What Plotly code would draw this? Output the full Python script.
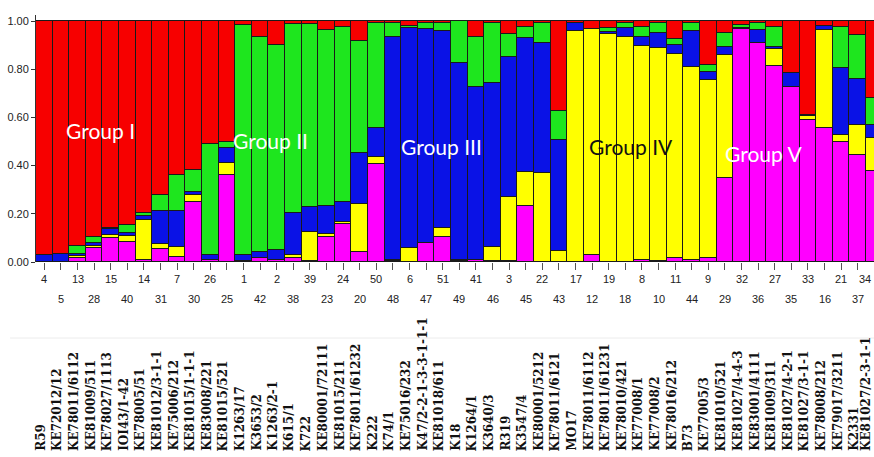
import plotly.graph_objects as go

# Sample numbers (x-axis, in plotted order)
sample_ids = ["4", "5", "13", "28", "15", "40", "14", "31", "7", "30", "26", "25",
              "1", "42", "2", "38", "39", "23", "24", "20", "50", "48", "6", "47",
              "51", "49", "41", "46", "3", "45", "22", "43", "17", "12", "19", "18",
              "8", "10", "11", "44", "9", "29", "32", "36", "27", "35", "33", "16",
              "21", "37", "34"]

# Line names printed below (in listed order)
line_names = ["R59", "KE72012/12", "KE78011/6112", "KE81009/511", "KE78027/1113",
              "IOI43/1-42", "KE78005/51", "KE81012/3-1-1", "KE75006/212",
              "KE81015/1-1-1", "KE83008/221", "KE81015/521", "K1263/17", "K3653/2",
              "K1263/2-1", "K615/1", "K722", "KE80001/72111", "KE81015/211",
              "KE78011/61232", "K222", "K74/1", "KE75016/232", "K47/2-2-1-3-3-1-1-1",
              "KE81018/611", "K18", "K1264/1", "K3640/3", "R319", "K3547/4",
              "KE80001/5212", "KE78011/6121", "MO17", "KE78011/6112", "KE78011/61231",
              "KE78010/421", "KE77008/1", "KE77008/2", "KE78016/212", "B73",
              "KE77005/3", "KE81010/521", "KE81027/4-4-3", "KE83001/4111",
              "KE81009/311", "KE81027/4-2-1", "KE81027/3-1-1", "KE78008/212",
              "KE79017/3211", "K2331", "KE81027/2-3-1-1"]

# Membership coefficients per cluster (stacked bottom -> top)
magenta = [0, 0, 0.015, 0.06, 0.10, 0.084, 0.01, 0.053, 0.022, 0.25, 0.01, 0.361,
           0.005, 0.015, 0.01, 0.017, 0.005, 0.105, 0.158, 0.043, 0.407, 0.005, 0, 0.08,
           0.102, 0.005, 0.01, 0.005, 0.005, 0.232, 0, 0, 0, 0.03, 0, 0,
           0.01, 0.005, 0.015, 0.01, 0.015, 0.347, 0.965, 0.907, 0.815, 0.725, 0.589, 0.555,
           0.499, 0.444, 0.379]
yellow = [0, 0, 0.01, 0.005, 0.012, 0.024, 0.164, 0.02, 0.041, 0.03, 0, 0.051,
          0, 0, 0, 0.013, 0.121, 0.01, 0.007, 0.198, 0.027, 0.005, 0.057, 0,
          0.038, 0.005, 0, 0.058, 0.266, 0.143, 0.371, 0.047, 0.96, 0.935, 0.945, 0.932,
          0.887, 0.884, 0.847, 0.80, 0.74, 0.512, 0, 0, 0.067, 0, 0.015, 0.408,
          0.028, 0.124, 0.134]
blue = [0.03, 0.035, 0.01, 0.015, 0.025, 0.012, 0.015, 0.14, 0.15, 0.01, 0.02, 0.06,
        0.025, 0.028, 0.04, 0.175, 0.104, 0.117, 0.085, 0.21, 0.121, 0.922, 0.913, 0.885,
        0.82, 0.814, 0.715, 0.681, 0.581, 0.553, 0.536, 0.459, 0.03, 0, 0.01, 0.038,
        0.035, 0.06, 0.038, 0.15, 0.035, 0.034, 0.005, 0.056, 0.01, 0.061, 0.006, 0.017,
        0.277, 0.19, 0.055]
green = [0, 0, 0.03, 0.025, 0.005, 0.035, 0.015, 0.065, 0.148, 0.092, 0.46, 0.025,
         0.953, 0.892, 0.85, 0.783, 0.758, 0.731, 0.724, 0.467, 0.435, 0.061, 0.01, 0.025,
         0.03, 0.176, 0.21, 0.249, 0.094, 0.046, 0.083, 0.122, 0, 0, 0.015, 0.02,
         0.042, 0.041, 0.025, 0.03, 0.027, 0.056, 0.015, 0.027, 0.082, 0, 0, 0,
         0.17, 0.184, 0.111]
red = [0.97, 0.965, 0.935, 0.895, 0.858, 0.845, 0.796, 0.722, 0.639, 0.618, 0.51, 0.503,
       0.017, 0.065, 0.10, 0.012, 0.012, 0.037, 0.026, 0.082, 0.01, 0.007, 0.02, 0.01,
       0.01, 0, 0.065, 0.007, 0.054, 0.026, 0.01, 0.372, 0.01, 0.035, 0.03, 0.01,
       0.026, 0.01, 0.075, 0.01, 0.183, 0.051, 0.015, 0.01, 0.026, 0.214, 0.39, 0.02,
       0.026, 0.058, 0.321]

y_ticks = [0, 0.2, 0.4, 0.6, 0.8, 1.0]
y_tick_text = ["0.00", "0.20", "0.40", "0.60", "0.80", "1.00"]

group_names = ["Group I", "Group II", "Group III", "Group IV", "Group V"]
group_x = [3.39, 13.63, 23.93, 35.34, 43.3]
group_y = [0.545, 0.505, 0.478, 0.478, 0.45]
group_colors = ["white", "white", "white", "#111111", "white"]

x = list(range(len(sample_ids)))
x_lo, x_hi = -0.5, 49.98
span = x_hi - x_lo
last = len(sample_ids) - 1

series = [("magenta", magenta, "#FF00FF"), ("yellow", yellow, "#FFFF00"),
          ("blue", blue, "#0A12E6"), ("green", green, "#1EE61E"),
          ("red", red, "#F70000")]

fig = go.Figure()
for name, vals, col in series:
    fig.add_trace(go.Bar(x=x, y=vals, name=name, width=1,
                         marker=dict(color=col, line=dict(color="#1a1a1a", width=1)),
                         showlegend=False, hoverinfo="skip"))

annotations = []
for i, s in enumerate(sample_ids):
    pos = min((i - x_lo) / span, 1.0)
    annotations.append(dict(x=pos, xref="paper", y=0, yref="paper", text=s,
                            showarrow=False, yanchor="middle",
                            xanchor="right" if i == last else "center",
                            xshift=-1 if i == last else 0,
                            yshift=-17 if i % 2 == 0 else -37,
                            font=dict(family="Liberation Sans Narrow, Liberation Sans", size=11, color="#222")))
for i, nm in enumerate(line_names):
    pos = min((i - x_lo) / span, 1.0)
    annotations.append(dict(x=pos, xref="paper", y=0, yref="paper",
                            text="<b>" + nm + "</b>",
                            showarrow=False, textangle=-90, yanchor="bottom",
                            xanchor="right" if i == last else "center",
                            xshift=1 if i == last else -4, yshift=-191,
                            font=dict(family="DejaVu Serif", size=12, color="#111")))
for gname, gx, gy, gc in zip(group_names, group_x, group_y, group_colors):
    annotations.append(dict(x=gx, y=gy, xref="x", yref="y", text=gname, showarrow=False,
                            font=dict(family="Lato", size=21, color=gc)))

fig.update_layout(
    width=874, height=457,
    margin=dict(l=36, r=0, t=15, b=195),
    barmode="stack", bargap=0,
    plot_bgcolor="white", paper_bgcolor="white",
    xaxis=dict(range=[x_lo, x_hi], tickvals=x, ticktext=[""] * len(x),
               ticks="outside", ticklen=7, tickcolor="#555", showgrid=False,
               zeroline=False, showline=False, showticklabels=False),
    yaxis=dict(range=[0, 1.025], tickvals=y_ticks, ticktext=y_tick_text,
               ticks="outside", ticklen=4, tickcolor="#333", showgrid=False,
               zeroline=False, showline=True, linecolor="#333", linewidth=1,
               tickfont=dict(family="Liberation Sans Narrow, Liberation Sans", size=11, color="#222")),
    annotations=annotations,
    shapes=[dict(type="line", xref="paper", yref="paper", x0=-0.031, x1=1,
                 y0=-0.3077, y1=-0.3077, line=dict(color="#ececec", width=1))],
)

fig.write_html("out.html", config={"displayModeBar": False},
               post_script="document.body.style.margin='0';document.body.style.overflow='hidden';")
